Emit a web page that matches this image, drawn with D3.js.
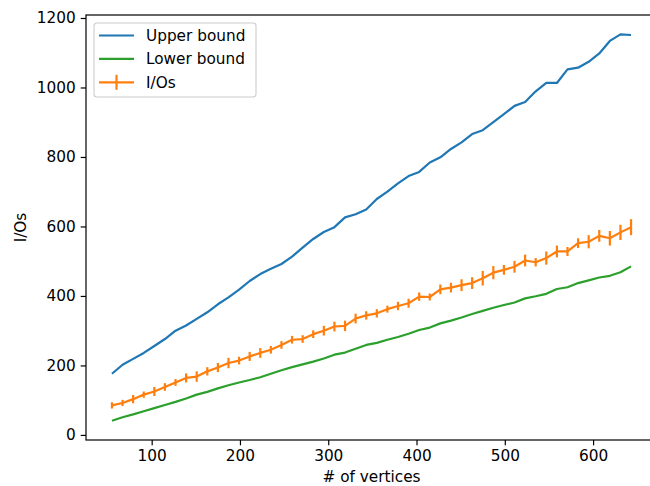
<!DOCTYPE html>
<html>
<head>
<meta charset="utf-8">
<script src="https://cdn.jsdelivr.net/npm/d3@7"></script>
<style>
  body { margin: 0; background: #fff; }
  svg { display: block; }
  text { font-family: "DejaVu Sans", sans-serif; }
</style>
</head>
<body>
<div class="viz"></div>
<script>
// values
const vertices = d3.range(50).map(i => 55 + 12 * i)

const upperBound = [176, 202, 219, 236, 256, 276, 300, 315, 334, 353,
  376, 396, 418, 443, 463, 478, 492, 513, 539, 564,
  584, 598, 626, 635, 649, 679, 700, 724, 745, 757,
  784, 799, 823, 842, 866, 877, 900, 923, 947, 958,
  989, 1013, 1013, 1052, 1057, 1074, 1098, 1134, 1153, 1151]

const lowerBound = [41, 51, 59, 68, 77, 86, 95, 105, 116, 124,
  134, 143, 151, 158, 166, 176, 186, 195, 203, 211,
  220, 231, 237, 248, 259, 265, 274, 282, 291, 302,
  309, 321, 329, 338, 348, 357, 366, 374, 381, 393,
  399, 406, 420, 425, 437, 445, 453, 458, 468, 485]

const ios = [85, 92, 103, 116, 125, 138, 151, 164, 168, 183,
  194, 207, 214, 226, 236, 245, 259, 274, 276, 290,
  300, 312, 314, 335, 344, 350, 362, 371, 379, 398,
  397, 419, 424, 431, 437, 451, 467, 475, 484, 502,
  497, 509, 528, 528, 552, 556, 573, 566, 583, 598]

const iosErr = [9, 9, 12, 9, 13, 11, 10, 13, 15, 12,
  13, 15, 11, 13, 14, 11, 11, 11, 11, 11,
  14, 14, 15, 14, 12, 12, 10, 12, 13, 12,
  10, 14, 14, 17, 17, 21, 19, 14, 17, 17,
  12, 19, 17, 13, 14, 19, 17, 21, 22, 23]

const xTicks = [100, 200, 300, 400, 500, 600]
const yTicks = [0, 200, 400, 600, 800, 1000, 1200]

const legendLabels = ["Upper bound", "Lower bound", "I/Os"]
const colors = { upper: "#1f77b4", lower: "#2ca02c", ios: "#ff7f0e" }

const W = 650, H = 486
const axL = 86, axR = 657, axT = 15, axB = 440
const fs = 15.3
const lw = 2.2

// matplotlib style 5% margins
const pad = (lo, hi) => [lo - 0.05 * (hi - lo), hi + 0.05 * (hi - lo)]
const xExt = d3.extent(vertices)
const yLo = d3.min(lowerBound.concat(ios.map((v, i) => v - iosErr[i])))
const yHi = d3.max(upperBound.concat(ios.map((v, i) => v + iosErr[i])))

const x = d3.scaleLinear().domain(pad(xExt[0], xExt[1])).range([axL, axR])
const y = d3.scaleLinear().domain(pad(yLo, yHi)).range([axB, axT])

const svg = d3.select(".viz").append("svg")
  .attr("width", W)
  .attr("height", H)

const line = d3.line()
  .x((d, i) => x(vertices[i]))
  .y(d => y(d))

svg.append("path")
  .datum(upperBound)
  .attr("d", line)
  .attr("fill", "none")
  .attr("stroke", colors.upper)
  .attr("stroke-width", lw)
  .attr("stroke-linejoin", "round")

svg.append("path")
  .datum(lowerBound)
  .attr("d", line)
  .attr("fill", "none")
  .attr("stroke", colors.lower)
  .attr("stroke-width", lw)
  .attr("stroke-linejoin", "round")

svg.append("path")
  .datum(ios)
  .attr("d", line)
  .attr("fill", "none")
  .attr("stroke", colors.ios)
  .attr("stroke-width", lw)
  .attr("stroke-linejoin", "round")

svg.append("g").selectAll("line")
  .data(ios)
  .enter()
  .append("line")
  .attr("x1", (d, i) => x(vertices[i]))
  .attr("x2", (d, i) => x(vertices[i]))
  .attr("y1", (d, i) => y(d - iosErr[i]))
  .attr("y2", (d, i) => y(d + iosErr[i]))
  .attr("stroke", colors.ios)
  .attr("stroke-width", lw)

// axes
const xAxis = svg.append("g")
  .attr("transform", `translate(0,${axB})`)
  .call(d3.axisBottom(x).tickValues(xTicks).tickFormat(d3.format("d")).tickSize(5.3).tickPadding(5))
const yAxis = svg.append("g")
  .attr("transform", `translate(${axL},0)`)
  .call(d3.axisLeft(y).tickValues(yTicks).tickFormat(d3.format("d")).tickSize(5.3).tickPadding(5))

;[xAxis, yAxis].forEach(g => {
  g.select(".domain").remove()
  g.selectAll(".tick line").attr("stroke", "#000").attr("stroke-width", 1.2)
  g.selectAll(".tick text")
    .attr("fill", "#000")
    .style("font-size", fs + "px")
    .style("font-family", "DejaVu Sans")
})

// spines
svg.append("rect")
  .attr("x", axL)
  .attr("y", axT)
  .attr("width", axR - axL)
  .attr("height", axB - axT)
  .attr("fill", "none")
  .attr("stroke", "#000")
  .attr("stroke-width", 1.2)

svg.append("text")
  .attr("x", (axL + axR) / 2)
  .attr("y", H - 4)
  .attr("text-anchor", "middle")
  .style("font-size", fs + "px")
  .text("# of vertices")

svg.append("text")
  .attr("transform", `translate(26,${(axT + axB) / 2}) rotate(-90)`)
  .attr("text-anchor", "middle")
  .style("font-size", fs + "px")
  .text("I/Os")

// legend
const lg = svg.append("g").attr("transform", "translate(94,23)")
lg.append("rect")
  .attr("width", 162)
  .attr("height", 74)
  .attr("rx", 3)
  .attr("fill", "#fff")
  .attr("fill-opacity", 0.8)
  .attr("stroke", "#cccccc")
  .attr("stroke-width", 1.1)

const legendColors = [colors.upper, colors.lower, colors.ios]
legendLabels.forEach((lab, i) => {
  const cy = 12.5 + i * 23.4
  lg.append("line")
    .attr("x1", 5).attr("x2", 40)
    .attr("y1", cy).attr("y2", cy)
    .attr("stroke", legendColors[i])
    .attr("stroke-width", lw)
  if (i == 2) {
    lg.append("line")
      .attr("x1", 22.5).attr("x2", 22.5)
      .attr("y1", cy - 7.5).attr("y2", cy + 7.5)
      .attr("stroke", legendColors[i])
      .attr("stroke-width", lw)
  }
  lg.append("text")
    .attr("x", 52)
    .attr("y", cy)
    .attr("dy", "0.36em")
    .style("font-size", fs + "px")
    .text(lab)
})
</script>
</body>
</html>
